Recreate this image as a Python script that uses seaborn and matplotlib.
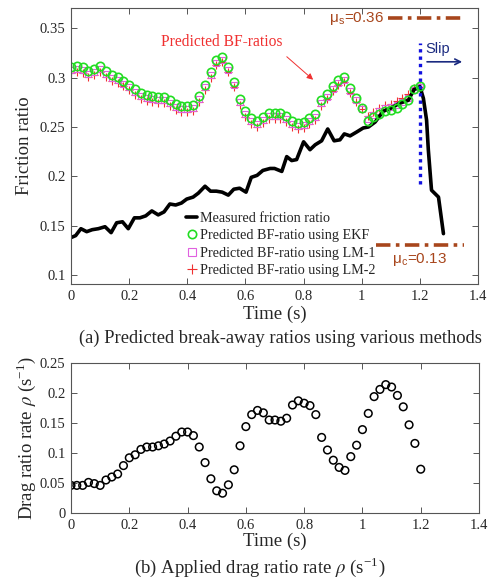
import matplotlib
matplotlib.use("Agg")
import matplotlib.pyplot as plt
from matplotlib.lines import Line2D
import matplotlib.ticker as mtick
import numpy as np
import seaborn as sns

# ── Data ──────────────────────────────────────────────────────────────────────

# predicted break-away ratios, sampled every 0.02 s from 0 to 1.2 s
pred_time = np.linspace(0, 1.2, 61)

ekf = [0.311, 0.312, 0.311, 0.307, 0.309, 0.312, 0.307, 0.303, 0.301, 0.297,
       0.293, 0.288, 0.284, 0.282, 0.281, 0.280, 0.280, 0.277, 0.273, 0.271,
       0.271, 0.272, 0.281, 0.293, 0.306, 0.318, 0.321, 0.311, 0.296, 0.278,
       0.266, 0.259, 0.256, 0.260, 0.264, 0.264, 0.264, 0.261, 0.256, 0.254,
       0.255, 0.259, 0.263, 0.277, 0.283, 0.291, 0.298, 0.301, 0.289, 0.279,
       0.269, 0.256, 0.260, 0.263, 0.266, 0.267, 0.269, 0.273, 0.277, 0.288,
       0.291]

lm1 = [0.308, 0.309, 0.308, 0.304, 0.306, 0.309, 0.304, 0.300, 0.298, 0.294,
       0.290, 0.285, 0.281, 0.279, 0.278, 0.277, 0.277, 0.274, 0.270, 0.268,
       0.268, 0.269, 0.278, 0.290, 0.303, 0.315, 0.318, 0.308, 0.293, 0.275,
       0.263, 0.256, 0.253, 0.257, 0.261, 0.261, 0.261, 0.258, 0.253, 0.251,
       0.252, 0.256, 0.260, 0.274, 0.280, 0.288, 0.295, 0.298, 0.286, 0.277,
       0.268, 0.258, 0.262, 0.266, 0.269, 0.270, 0.272, 0.275, 0.279, 0.287,
       0.290]

lm2 = [0.305, 0.306, 0.305, 0.301, 0.303, 0.306, 0.301, 0.297, 0.295, 0.291,
       0.287, 0.282, 0.278, 0.276, 0.275, 0.274, 0.274, 0.271, 0.267, 0.265,
       0.265, 0.266, 0.275, 0.287, 0.300, 0.313, 0.316, 0.306, 0.290, 0.272,
       0.260, 0.253, 0.250, 0.254, 0.258, 0.258, 0.258, 0.255, 0.250, 0.248,
       0.249, 0.253, 0.257, 0.271, 0.278, 0.286, 0.293, 0.296, 0.284, 0.275,
       0.268, 0.261, 0.265, 0.269, 0.272, 0.273, 0.276, 0.279, 0.283, 0.289,
       0.290]

# measured friction ratio (black line)
meas_time = [0.000, 0.016, 0.034, 0.054, 0.073, 0.094, 0.117, 0.138, 0.157, 0.177,
             0.197, 0.218, 0.237, 0.257, 0.278, 0.300, 0.320, 0.340, 0.360, 0.380,
             0.398, 0.420, 0.438, 0.461, 0.480, 0.500, 0.520, 0.541, 0.560, 0.580,
             0.602, 0.620, 0.640, 0.660, 0.685, 0.700, 0.725, 0.742, 0.759, 0.776,
             0.800, 0.822, 0.840, 0.862, 0.883, 0.905, 0.925, 0.940, 0.960, 0.983,
             1.005, 1.023, 1.046, 1.074, 1.100, 1.130, 1.160, 1.180, 1.190, 1.200,
             1.212, 1.223, 1.229, 1.240, 1.264, 1.281]
measured = [0.138, 0.140, 0.147, 0.144, 0.146, 0.147, 0.149, 0.143, 0.153, 0.154,
            0.147, 0.158, 0.158, 0.160, 0.165, 0.161, 0.164, 0.172, 0.171, 0.173,
            0.177, 0.179, 0.183, 0.190, 0.185, 0.185, 0.184, 0.181, 0.187, 0.188,
            0.184, 0.199, 0.201, 0.206, 0.208, 0.208, 0.205, 0.220, 0.216, 0.217,
            0.235, 0.227, 0.232, 0.236, 0.248, 0.236, 0.237, 0.243, 0.241, 0.245,
            0.249, 0.250, 0.255, 0.266, 0.269, 0.274, 0.277, 0.288, 0.289, 0.291,
            0.279, 0.257, 0.227, 0.186, 0.179, 0.142]

# applied drag ratio rate rho (bottom panel)
drag_rate = [0.046, 0.046, 0.046, 0.051, 0.049, 0.046, 0.055, 0.060, 0.065, 0.079,
             0.092, 0.097, 0.106, 0.110, 0.110, 0.112, 0.115, 0.120, 0.128, 0.135,
             0.135, 0.129, 0.110, 0.084, 0.057, 0.037, 0.033, 0.047, 0.072, 0.112,
             0.144, 0.164, 0.171, 0.167, 0.155, 0.155, 0.153, 0.158, 0.180, 0.187,
             0.183, 0.179, 0.164, 0.126, 0.105, 0.088, 0.076, 0.071, 0.094, 0.113,
             0.139, 0.166, 0.194, 0.206, 0.214, 0.210, 0.196, 0.177, 0.147, 0.116,
             0.073]

MU_S = 0.36
MU_C = 0.13
SLIP_TIME = 1.2

LEGEND_LABELS = ["Measured friction ratio",
                 "Predicted BF-ratio using EKF",
                 "Predicted BF-ratio using LM-1",
                 "Predicted BF-ratio using LM-2"]

# ── Style ─────────────────────────────────────────────────────────────────────

sns.set_style("ticks")
plt.rcParams["font.family"] = ["Liberation Serif", "DejaVu Serif"]
plt.rcParams["mathtext.fontset"] = "stix"
plt.rcParams["xtick.direction"] = "in"
plt.rcParams["ytick.direction"] = "in"
plt.rcParams["axes.edgecolor"] = "#555555"
plt.rcParams["axes.linewidth"] = 0.8

BROWN = "#A8461C"
GREEN = "#22DD22"
MAGENTA = "#E060E0"
RED = "#F03030"
TICK_FS = 10.5
LABEL_FS = 13.5

fig = plt.figure(figsize=(4.91, 5.79), dpi=100)
ax1 = fig.add_axes([0.1446, 0.5095, 0.829, 0.4767])
ax2 = fig.add_axes([0.1446, 0.114, 0.831, 0.259])


def style_axis(ax):
    ax.set_xlim(0, 1.4)
    ax.xaxis.set_major_locator(mtick.MultipleLocator(0.2))
    ax.xaxis.set_major_formatter(mtick.FormatStrFormatter("%g"))
    ax.yaxis.set_major_formatter(mtick.FormatStrFormatter("%g"))
    ax.tick_params(which="both", top=True, right=True, length=4, width=0.7,
                   color="#555555", labelsize=TICK_FS, pad=4)
    for sp in ax.spines.values():
        sp.set_visible(True)


# ── Top panel ─────────────────────────────────────────────────────────────────

sns.lineplot(x=pred_time, y=lm2, ax=ax1, estimator=None, linestyle="",
             marker="+", markersize=6, markeredgecolor=RED, markeredgewidth=0.8)
sns.lineplot(x=pred_time, y=lm1, ax=ax1, estimator=None, linestyle="",
             marker="s", markersize=4, markerfacecolor="none",
             markeredgecolor=MAGENTA, markeredgewidth=0.8)
sns.lineplot(x=meas_time, y=measured, ax=ax1, estimator=None, sort=False,
             color="black", linewidth=2.6)
sns.lineplot(x=pred_time, y=ekf, ax=ax1, estimator=None, linestyle="",
             marker="o", markersize=6, markerfacecolor="none",
             markeredgecolor=GREEN, markeredgewidth=1.2)

# slip instant
ax1.plot([SLIP_TIME, SLIP_TIME], [0.192, 0.335], color="#1010E0",
         linestyle=(0, (1, 1.2)), linewidth=2.4)
ax1.annotate("", xy=(1.355, 0.316), xytext=(1.215, 0.316),
             arrowprops=dict(arrowstyle="->", color="#1A2A80", lw=1.2))
ax1.text(1.262, 0.3285, "Slip", fontsize=10.5, color="#1A2A80",
         family="Liberation Sans", ha="center", va="center")

# static / coulomb friction levels
ax1.plot([1.09, 1.35], [MU_S, MU_S], color=BROWN, linewidth=2.6,
         linestyle=(0, (4, 1.5, 1, 1.5)))
ax1.plot([1.05, 1.35], [MU_C, MU_C], color=BROWN, linewidth=2.6,
         linestyle=(0, (4, 1.5, 1, 1.5)))
ax1.text(1.075, MU_S, r"μ$_{\mathregular{s}}$=0.36", fontsize=11, color=BROWN,
         family="Liberation Sans", ha="right", va="center")
ax1.text(1.2, 0.116, r"μ$_{\mathregular{c}}$=0.13", fontsize=11, color=BROWN,
         family="Liberation Sans", ha="center", va="center")

# annotation
ax1.text(0.52, 0.336, "Predicted BF-ratios", fontsize=11.2, color=RED,
         ha="center", va="center")
ax1.annotate("", xy=(0.84, 0.296), xytext=(0.735, 0.323),
             arrowprops=dict(arrowstyle="-|>", color=RED, lw=0.7,
                             mutation_scale=9))

ax1.set_ylim(0.091, 0.3705)
ax1.yaxis.set_major_locator(mtick.MultipleLocator(0.05))
style_axis(ax1)
ax1.set_xlabel("Time (s)", fontsize=LABEL_FS, labelpad=2)
ax1.set_ylabel("Friction ratio", fontsize=LABEL_FS, labelpad=5)

handles = [
    Line2D([], [], color="black", linewidth=2.6),
    Line2D([], [], linestyle="", marker="o", markersize=6, markerfacecolor="none",
           markeredgecolor=GREEN, markeredgewidth=1.2),
    Line2D([], [], linestyle="", marker="s", markersize=6, markerfacecolor="none",
           markeredgecolor=MAGENTA, markeredgewidth=0.8),
    Line2D([], [], linestyle="", marker="+", markersize=7, markeredgecolor=RED,
           markeredgewidth=0.8),
]
ax1.legend(handles, LEGEND_LABELS, loc="lower left", bbox_to_anchor=(0.258, -0.01),
           frameon=False, fontsize=10.2, handlelength=0.8, handletextpad=0.2,
           labelspacing=0.3, borderpad=0.2)

# ── Bottom panel ──────────────────────────────────────────────────────────────

sns.scatterplot(x=pred_time, y=drag_rate, ax=ax2, marker="o", s=30,
                facecolors="none", edgecolor="black", linewidth=1.1)
ax2.set_ylim(0, 0.25)
ax2.yaxis.set_major_locator(mtick.MultipleLocator(0.05))
style_axis(ax2)
ax2.set_xlabel("Time (s)", fontsize=LABEL_FS, labelpad=1)
ax2.set_ylabel(r"Drag ratio rate $\rho$ (s$^{\mathregular{-1}}$)", fontsize=LABEL_FS,
               labelpad=1)

# captions
fig.text(0.572, 0.416, "(a) Predicted break-away ratios using various methods",
         fontsize=13.3, ha="center", va="center")
fig.text(0.53, 0.021, r"(b) Applied drag ratio rate $\rho$ (s$^{\mathregular{-1}}$)",
         fontsize=13.5, ha="center", va="center")

fig.savefig("out.png", dpi=100)
